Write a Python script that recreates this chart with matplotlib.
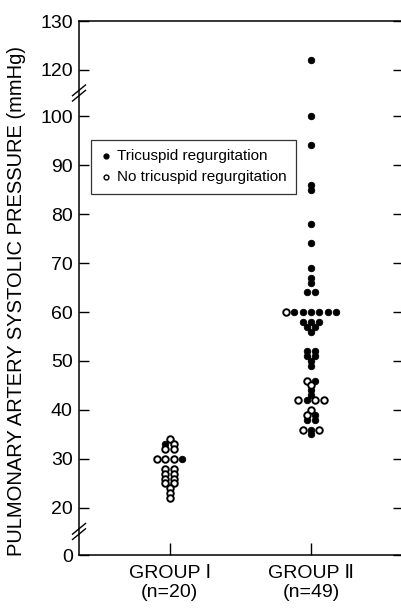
import numpy as np
import matplotlib.pyplot as plt

plt.rcParams['font.family'] = ['Liberation Sans', 'DejaVu Sans']

# pressures (mmHg) in the order the dots are laid out along each row
group1_pressure = [34, 33, 33, 32, 32, 30, 30, 30, 30, 28, 28, 27, 27, 26, 26, 25, 25, 24, 23, 22]
group1_tr = [0, 1, 0, 0, 0, 0, 0, 0, 1, 0, 0, 0, 0, 0, 0, 0, 0, 0, 0, 0]

group2_pressure = [122, 100, 94, 86, 85, 78, 74, 69, 67, 66, 64, 64,
                   60, 60, 60, 60, 60, 60, 60,
                   58, 58, 58, 57, 57, 56,
                   52, 52, 51, 51, 50, 49,
                   46, 46, 45, 44, 43,
                   42, 42, 42, 42,
                   40, 39, 39, 38, 38,
                   36, 36, 36, 35]
group2_tr = [1, 1, 1, 1, 1, 1, 1, 1, 1, 1, 1, 1,
             0, 1, 1, 1, 1, 1, 1,
             1, 1, 1, 1, 1, 1,
             1, 1, 1, 1, 1, 1,
             0, 1, 0, 1, 1,
             0, 1, 0, 0,
             0, 0, 1, 1, 1,
             0, 1, 0, 1]

group_labels = ['GROUP \u2160\n(n=20)', 'GROUP \u2161\n(n=49)']
ytick_values = [0, 20, 30, 40, 50, 60, 70, 80, 90, 100, 120, 130]

# broken y axis: 0-20 and 100-120 squeezed
brk_vals = [0, 20, 100, 120, 130]
brk_pos = [0, 9.6, 89.6, 99, 109]


def fwd(v):
    return np.interp(v, brk_vals, brk_pos)


def inv(p):
    return np.interp(p, brk_pos, brk_vals)


def swarm_x(center, values, step=0.06):
    values = np.asarray(values)
    xs = np.zeros(len(values))
    for v in np.unique(values):
        idx = np.where(values == v)[0]
        n = len(idx)
        xs[idx] = center + (np.arange(n) - (n - 1) / 2) * step
    return xs


fig = plt.figure(figsize=(4.01, 6.10), dpi=100)
ax = fig.add_axes([79 / 401, 55 / 610, (403 - 79) / 401, (555 - 21) / 610])
ax.set_yscale('function', functions=(fwd, inv))

for center, vals, tr in [(1, group1_pressure, group1_tr), (2, group2_pressure, group2_tr)]:
    xs = swarm_x(center, vals)
    vals = np.asarray(vals)
    tr = np.asarray(tr, dtype=bool)
    ax.scatter(xs[tr], vals[tr], s=22, c='black', edgecolors='black', linewidths=0.6, zorder=3)
    ax.scatter(xs[~tr], vals[~tr], s=22, facecolors='white', edgecolors='black', linewidths=1.4, zorder=3)

# legend handles
h1 = ax.scatter([], [], s=12, c='black', label='Tricuspid regurgitation')
h2 = ax.scatter([], [], s=12, facecolors='white', edgecolors='black', linewidths=1.0,
                label='No tricuspid regurgitation')
leg = ax.legend(handles=[h1, h2], loc='upper left', bbox_to_anchor=(0.037, 0.778), frameon=True,
                fancybox=False, edgecolor='black', fontsize=11, handletextpad=0.3,
                handlelength=0.8, borderpad=0.6, labelspacing=0.5, borderaxespad=0)
leg.get_frame().set_linewidth(0.9)

ax.set_xlim(0.358, 2.651)
ax.set_ylim(0, 130)
ax.set_xticks([1, 2])
ax.set_xticklabels(group_labels, fontsize=14, linespacing=1.15)
ax.set_yticks(ytick_values)
ax.set_yticklabels([str(v) for v in ytick_values], fontsize=14)
ax.yaxis.set_minor_locator(plt.NullLocator())
ax.tick_params(axis='y', direction='in', length=7.5, width=1.0, pad=4.5, left=True, right=True)
ax.tick_params(axis='x', direction='in', length=9, width=1.0, pad=7)
for sp in ax.spines.values():
    sp.set_linewidth(1.1)

ax.set_ylabel('PULMONARY ARTERY SYSTOLIC PRESSURE (mmHg)', fontsize=14.5)
ax.yaxis.set_label_coords(-0.163, 0.475)

# break marks on the left spine
for v in [110, 10]:
    yf = fwd(v) / fwd(130)
    for dy in [-0.005, 0.005]:
        ax.plot([-0.02, 0.02], [yf + dy - 0.01, yf + dy + 0.01], color='black', lw=1.0,
                transform=ax.transAxes, clip_on=False)

fig.savefig('out.png', dpi=100)
